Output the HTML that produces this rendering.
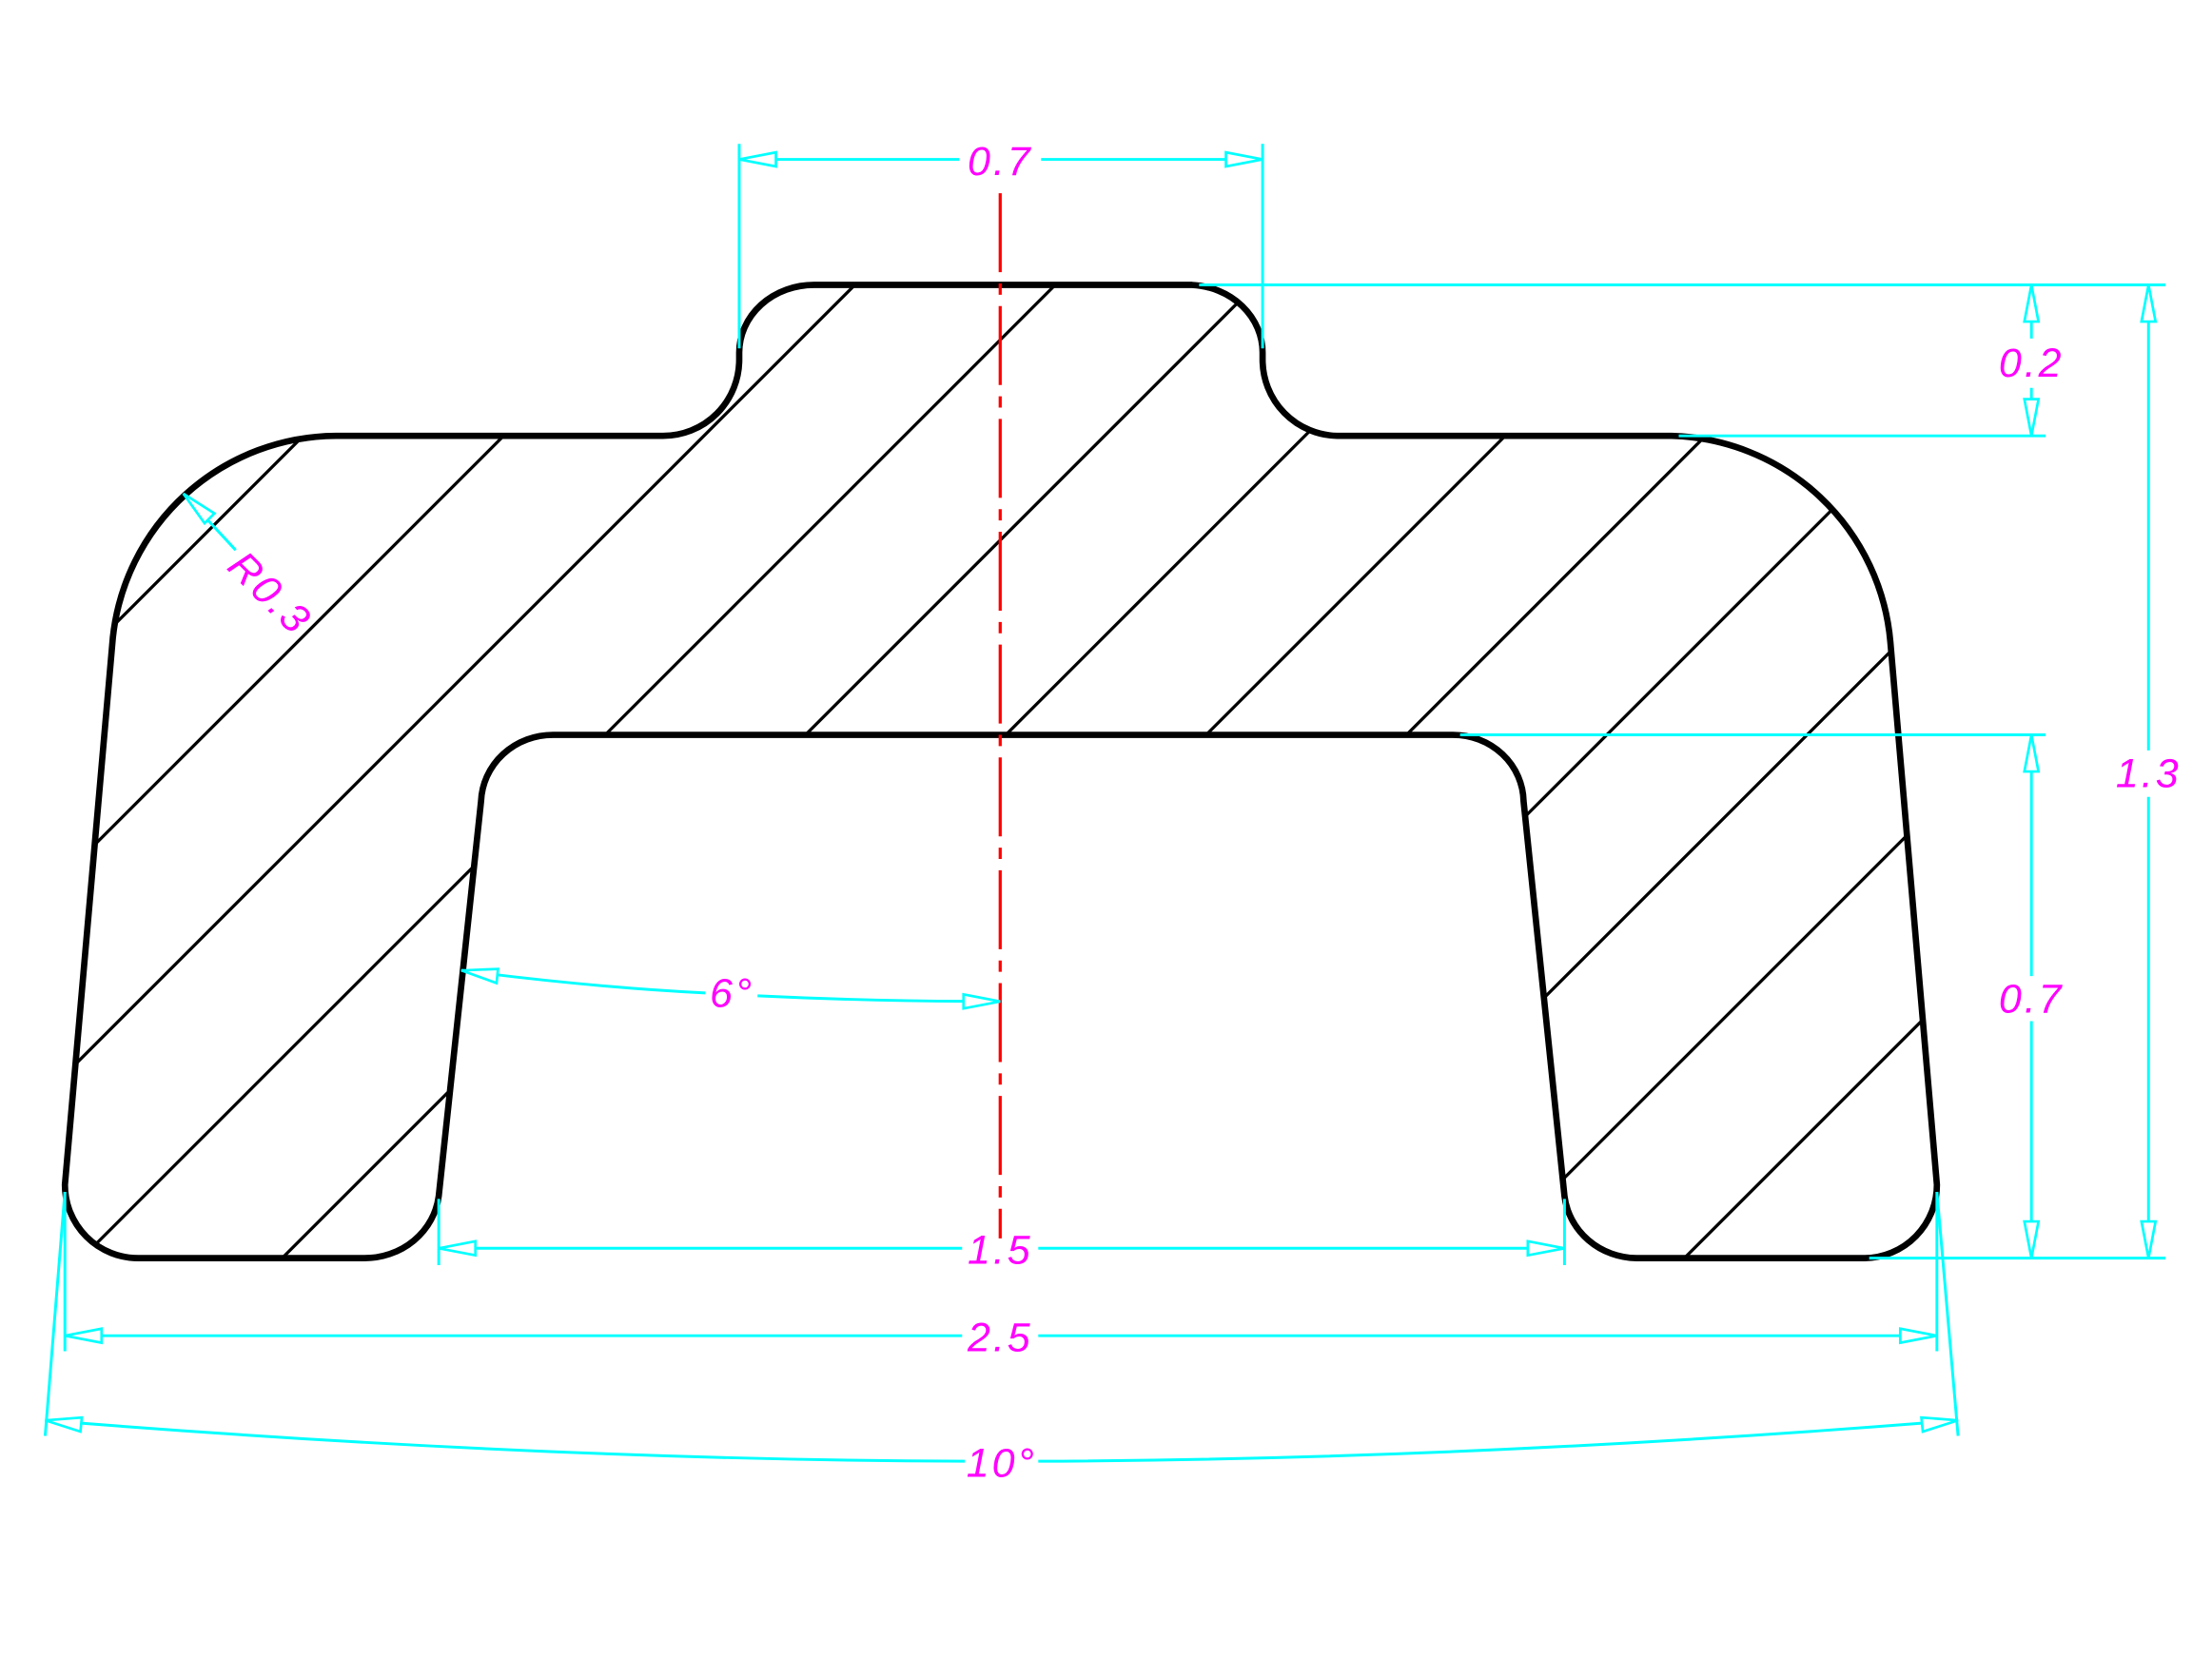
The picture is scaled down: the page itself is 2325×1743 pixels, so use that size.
<!DOCTYPE html>
<html><head><meta charset="utf-8"><style>
html,body{margin:0;padding:0;background:#fff;}
svg{display:block;}
text{font-family:"Liberation Sans",sans-serif;font-style:italic;fill:#ff00ff;font-size:29px;letter-spacing:2px;}
</style></head><body>
<svg width="2325" height="1743" viewBox="0 0 1568 1175.5" xmlns="http://www.w3.org/2000/svg">
<defs>
<path id="shape" d="M577,202 L845,202 A53,48 0 0 1 895,250 L895,255 A54,54 0 0 0 948,309 L1185,309 A160,160 0 0 1 1340,455 L1373,840 A52,52 0 0 1 1322,892 L1160,892 A52,50 0 0 1 1109,848 L1080,568 A50,48 0 0 0 1030,521 L392,521 A51,49 0 0 0 341,568 L311,848 A53,50 0 0 1 258,892 L98,892 A52,52 0 0 1 46,840 L80,452 A160,160 0 0 1 238,309 L470,309 A54,54 0 0 0 524,255 L524,250 A53,48 0 0 1 577,202 Z"/>
<clipPath id="c"><use href="#shape"/></clipPath>
</defs>
<g clip-path="url(#c)"><g stroke="#000" stroke-width="2.2" transform="translate(3,0)">
<line x1="521" y1="0" x2="-479" y2="1000"/>
<line x1="663" y1="0" x2="-337" y2="1000"/>
<line x1="805" y1="0" x2="-195" y2="1000"/>
<line x1="947" y1="0" x2="-53" y2="1000"/>
<line x1="1089" y1="0" x2="89" y2="1000"/>
<line x1="1231" y1="0" x2="231" y2="1000"/>
<line x1="1373" y1="0" x2="373" y2="1000"/>
<line x1="1515" y1="0" x2="515" y2="1000"/>
<line x1="1657" y1="0" x2="657" y2="1000"/>
<line x1="1799" y1="0" x2="799" y2="1000"/>
<line x1="1941" y1="0" x2="941" y2="1000"/>
<line x1="2083" y1="0" x2="1083" y2="1000"/>
</g></g>
<use href="#shape" fill="none" stroke="#000" stroke-width="4.5"/>
<line x1="709" y1="137" x2="709" y2="878" stroke="#ff0000" stroke-width="2.2" stroke-dasharray="56,8,8,8"/>
<g stroke="#00ffff" stroke-width="2" fill="none">
<line x1="524" y1="102" x2="524" y2="247"/><line x1="895" y1="102" x2="895" y2="247"/>
<line x1="524" y1="113" x2="680" y2="113"/><line x1="738" y1="113" x2="895" y2="113"/>
<line x1="850" y1="202" x2="1535" y2="202"/>
<line x1="1190" y1="309" x2="1450" y2="309"/>
<line x1="1035" y1="521" x2="1450" y2="521"/>
<line x1="1325" y1="892" x2="1535" y2="892"/>
<line x1="1440" y1="202" x2="1440" y2="240"/><line x1="1440" y1="275" x2="1440" y2="309"/>
<line x1="1440" y1="521" x2="1440" y2="692"/><line x1="1440" y1="724" x2="1440" y2="892"/>
<line x1="1523" y1="202" x2="1523" y2="532"/><line x1="1523" y1="565" x2="1523" y2="892"/>
<line x1="311" y1="850" x2="311" y2="897"/><line x1="1109" y1="850" x2="1109" y2="897"/>
<line x1="311" y1="885" x2="682" y2="885"/><line x1="736" y1="885" x2="1109" y2="885"/>
<line x1="46" y1="845" x2="46" y2="958"/><line x1="1373" y1="845" x2="1373" y2="958"/>
<line x1="46" y1="947" x2="682" y2="947"/><line x1="736" y1="947" x2="1373" y2="947"/>
<line x1="46" y1="845" x2="32" y2="1018"/><line x1="1373" y1="845" x2="1388" y2="1018"/>
<path d="M32,1007 Q380,1035 684,1036"/><path d="M736,1036 Q1040,1035 1388,1007"/>
<path d="M327,688 Q420,700 500,704"/><path d="M537,706 Q620,710 709,710"/>
<line x1="130" y1="350" x2="167" y2="390"/>
</g>
<g fill="#fff" stroke="#00ffff" stroke-width="1.8">
<polygon points="524,113 550,108 550,118"/><polygon points="895,113 869,108 869,118"/>
<polygon points="1440,202 1435,228 1445,228"/><polygon points="1440,309 1435,283 1445,283"/>
<polygon points="1440,521 1435,547 1445,547"/><polygon points="1440,892 1435,866 1445,866"/>
<polygon points="1523,202 1518,228 1528,228"/><polygon points="1523,892 1518,866 1528,866"/>
<polygon points="311,885 337,880 337,890"/><polygon points="1109,885 1083,880 1083,890"/>
<polygon points="46,947 72,942 72,952"/><polygon points="1373,947 1347,942 1347,952"/>
<polygon points="32,1007 58,1005 57,1015"/><polygon points="1388,1007 1362,1005 1363,1015"/>
<polygon points="327,688 353,687 352,697"/><polygon points="709,710 683,705 683,715"/>
<polygon points="130,350 152,364 145,371"/>
</g>
<text x="709" y="124" text-anchor="middle">0.7</text>
<text x="1440" y="267" text-anchor="middle">0.2</text>
<text x="1523" y="558" text-anchor="middle">1.3</text>
<text x="1440" y="718" text-anchor="middle">0.7</text>
<text x="709" y="896" text-anchor="middle">1.5</text>
<text x="709" y="958" text-anchor="middle">2.5</text>
<text x="710" y="1047" text-anchor="middle">10°</text>
<text x="519" y="714" text-anchor="middle">6°</text>
<text x="0" y="0" transform="translate(160,403) rotate(45)">R0.3</text>
</svg>
</body></html>
